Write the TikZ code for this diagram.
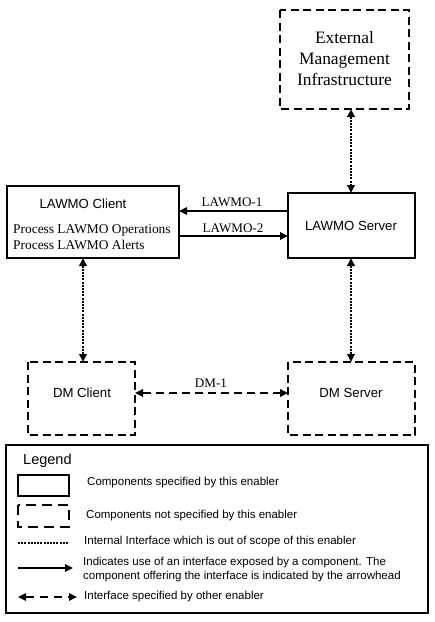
\documentclass[tikz,border=0pt]{standalone}
\usepackage{fontspec}
\setmainfont{Liberation Serif}
\setsansfont{Liberation Sans}
\usetikzlibrary{arrows.meta}
\begin{document}
\begin{tikzpicture}[x=1pt,y=-1pt,
  solidbox/.style={draw,line width=2.1pt},
  dashbox/.style={draw,line width=2.1pt,dash pattern=on 8pt off 4.5pt},
  tip/.style={-{Triangle[length=8pt,width=7.5pt]}},
  dtip/.style={{Triangle[length=8pt,width=7.5pt]}-{Triangle[length=8pt,width=7.5pt]}},
  dotline/.style={line width=1.8pt,dash pattern=on 2pt off 1.2pt},
  dmline/.style={line width=1.8pt,dash pattern=on 8pt off 5pt},
  sanslbl/.style={font=\fontsize{13.2}{15}\sffamily},
  seriflbl/.style={font=\fontsize{13.1}{15}\rmfamily},
  legtext/.style={font=\fontsize{11.5}{14.5}\sffamily,anchor=west,align=left,inner sep=0pt},
]
\useasboundingbox (0,0) rectangle (435,622);

% External Management Infrastructure
\draw[dashbox] (280,10) rectangle (409,109);
\node[inner sep=0pt,align=center,font=\fontsize{17.4}{21}\rmfamily] (ext) at (344.5,59) {External\\Management\\Infrastructure};
\coordinate (extb) at (351,109);

% LAWMO Client
\draw[solidbox] (7,186) rectangle (179,258);
\node[sanslbl,inner sep=0pt] (lcname) at (83,204) {LAWMO Client};
\node[font=\fontsize{13.4}{16}\rmfamily,inner sep=0pt,align=left,anchor=west] (lcproc) at (13,237) {Process LAWMO Operations\\Process LAWMO Alerts};
\coordinate (lcr1) at (179,211);
\coordinate (lcr2) at (179,236);
\coordinate (lcb) at (83,258);

% LAWMO Server
\draw[solidbox] (288,193) rectangle (415,258);
\node[sanslbl,inner sep=0pt] (lsname) at (351,226) {LAWMO Server};
\coordinate (lsl1) at (288,211);
\coordinate (lsl2) at (288,236);
\coordinate (lst) at (351,193);
\coordinate (lsb) at (351,258);

% DM Client
\draw[dashbox] (28,362) rectangle (135,435);
\node[sanslbl,inner sep=0pt] (dmc) at (82,393) {DM Client};
\coordinate (dmct) at (83,362);
\coordinate (dmcr) at (135,393);

% DM Server
\draw[dashbox] (288,362) rectangle (415,435);
\node[sanslbl,inner sep=0pt] (dms) at (351,393) {DM Server};
\coordinate (dmst) at (351,362);
\coordinate (dmsl) at (288,393);

% Connectors
\draw[line width=1.3pt,tip] (lsl1) -- (lcr1);
\draw[line width=1.8pt,tip] (lcr2) -- (lsl2);
\node[seriflbl,inner sep=0pt] (l1) at (232,202) {LAWMO-1};
\node[seriflbl,inner sep=0pt] (l2) at (233,228) {LAWMO-2};

\draw[dotline,dtip] (extb) -- (lst);
\draw[dotline,dtip] (lcb) -- (dmct);
\draw[dotline,dtip] (lsb) -- (dmst);

\draw[dmline,dtip] (dmcr) -- (dmsl);
\node[seriflbl,inner sep=0pt] (dm1) at (211,383) {DM-1};

% Legend
\draw[line width=2.1pt] (6,445) rectangle (428,613);
\node[font=\fontsize{14.5}{17}\sffamily,anchor=west,inner sep=0pt] (leg) at (23,461) {Legend};
\draw[solidbox] (18,475) rectangle (69,496);
\node[legtext] (t1) at (87,483) {Components specified by this enabler};
\draw[line width=2.1pt,dash pattern=on 10pt off 6pt] (18,505) rectangle (69,527);
\node[legtext] (t2) at (86,516) {Components not specified by this enabler};
\coordinate (d1a) at (18,543);
\coordinate (d1b) at (69,543);
\draw[dotline] (d1a) -- (d1b);
\node[legtext] (t3) at (84,542) {Internal Interface which is out of scope of this enabler};
\coordinate (a1a) at (18,568);
\coordinate (a1b) at (73,568);
\draw[line width=1.6pt,tip] (a1a) -- (a1b);
\node[legtext] (t4) at (83,569.5) {Indicates use of an interface exposed by a component. The\\component offering the interface is indicated by the arrowhead};
\coordinate (a2a) at (18,597);
\coordinate (a2b) at (77,597);
\draw[line width=1.6pt,dash pattern=on 8pt off 6pt,dtip] (a2a) -- (a2b);
\node[legtext] (t5) at (84,597) {Interface specified by other enabler};
\end{tikzpicture}
\end{document}
